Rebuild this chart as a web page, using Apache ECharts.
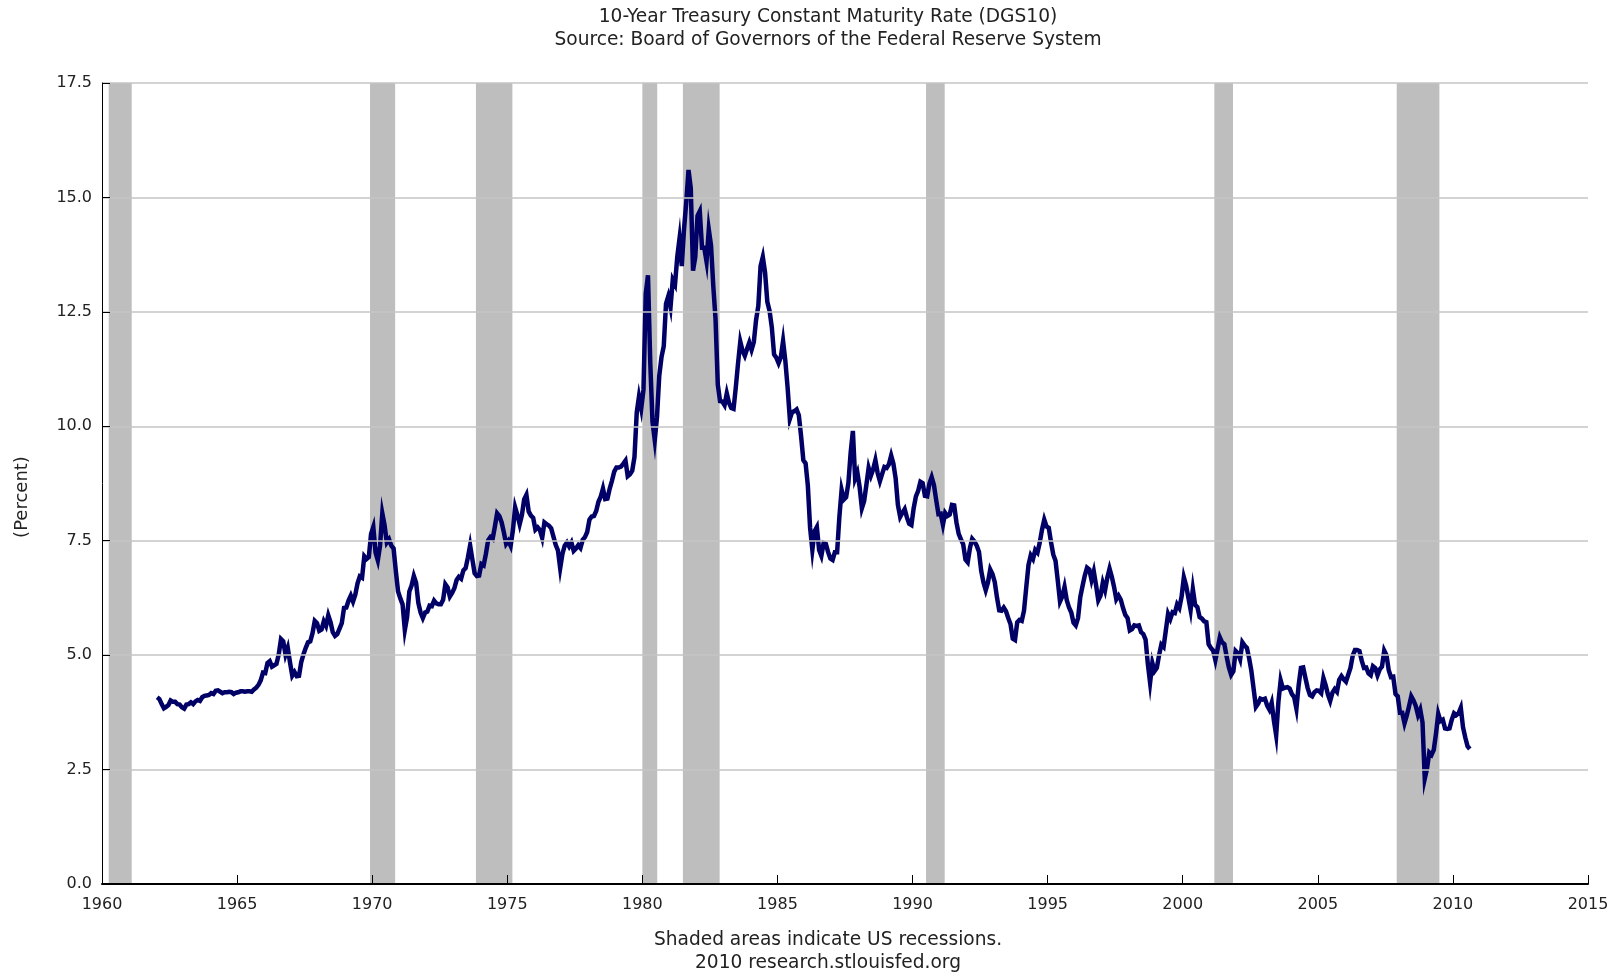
<!DOCTYPE html>
<html>
<head>
<meta charset="utf-8">
<script src="https://cdn.jsdelivr.net/npm/echarts@6/dist/echarts.min.js"></script>
<style>
html,body{margin:0;padding:0;background:#fff;}
#chart{width:1620px;height:972px;}
</style>
</head>
<body>
<div id="chart"></div>
<script>
// Monthly 10-year Treasury yields (percent), starting January 1962
const startYear = 1962;
const yields = [
  // 1962
  4.08, 4.04, 3.93, 3.84, 3.87, 3.91, 4.01, 3.98, 3.98, 3.93, 3.92, 3.86,
  // 1963
  3.83, 3.92, 3.93, 3.97, 3.93, 3.99, 4.02, 4.00, 4.08, 4.11, 4.12, 4.13,
  // 1964
  4.17, 4.15, 4.22, 4.23, 4.20, 4.17, 4.19, 4.19, 4.20, 4.19, 4.15, 4.18,
  // 1965
  4.19, 4.21, 4.21, 4.20, 4.21, 4.21, 4.20, 4.25, 4.29, 4.35, 4.45, 4.62,
  // 1966
  4.61, 4.83, 4.87, 4.75, 4.78, 4.81, 5.02, 5.35, 5.30, 5.01, 5.16, 4.84,
  // 1967
  4.55, 4.63, 4.54, 4.55, 4.85, 5.02, 5.16, 5.28, 5.30, 5.48, 5.75, 5.70,
  // 1968
  5.53, 5.56, 5.74, 5.64, 5.87, 5.72, 5.50, 5.42, 5.46, 5.58, 5.70, 6.03,
  // 1969
  6.04, 6.19, 6.30, 6.17, 6.32, 6.57, 6.72, 6.69, 7.16, 7.10, 7.14, 7.65,
  // 1970
  7.80, 7.24, 7.07, 7.39, 8.10, 7.84, 7.46, 7.53, 7.39, 7.33, 6.84, 6.39,
  // 1971
  6.24, 6.11, 5.55, 5.83, 6.39, 6.52, 6.73, 6.58, 6.14, 5.93, 5.81, 5.93,
  // 1972
  5.95, 6.08, 6.07, 6.19, 6.13, 6.11, 6.11, 6.21, 6.55, 6.48, 6.28, 6.36,
  // 1973
  6.46, 6.64, 6.71, 6.67, 6.85, 6.90, 7.13, 7.40, 7.09, 6.79, 6.73, 6.74,
  // 1974
  6.99, 6.96, 7.21, 7.51, 7.58, 7.54, 7.81, 8.10, 8.04, 7.90, 7.68, 7.43,
  // 1975
  7.50, 7.39, 7.73, 8.23, 8.06, 7.86, 8.06, 8.40, 8.50, 8.14, 8.05, 8.00,
  // 1976
  7.74, 7.79, 7.73, 7.56, 7.90, 7.86, 7.83, 7.77, 7.59, 7.41, 7.29, 6.90,
  // 1977
  7.21, 7.39, 7.46, 7.37, 7.46, 7.28, 7.33, 7.40, 7.34, 7.52, 7.58, 7.69,
  // 1978
  7.96, 8.03, 8.04, 8.15, 8.35, 8.46, 8.64, 8.41, 8.42, 8.64, 8.81, 9.01,
  // 1979
  9.10, 9.10, 9.12, 9.18, 9.25, 8.91, 8.95, 9.03, 9.33, 10.30, 10.65, 10.39,
  // 1980
  10.80, 12.90, 13.30, 11.40, 10.10, 9.70, 10.20, 11.10, 11.51, 11.75, 12.68, 12.84,
  // 1981
  12.60, 13.20, 13.10, 13.70, 14.10, 13.50, 14.30, 14.90, 15.60, 15.20, 13.40, 13.70,
  // 1982
  14.60, 14.70, 13.90, 13.90, 13.60, 14.30, 13.95, 13.06, 12.34, 10.91, 10.55, 10.54,
  // 1983
  10.46, 10.72, 10.51, 10.40, 10.38, 10.85, 11.38, 11.85, 11.65, 11.54, 11.69, 11.83,
  // 1984
  11.67, 11.84, 12.32, 12.63, 13.50, 13.70, 13.36, 12.72, 12.52, 12.16, 11.57, 11.50,
  // 1985
  11.38, 11.51, 11.86, 11.43, 10.85, 10.16, 10.31, 10.33, 10.37, 10.24, 9.78, 9.26,
  // 1986
  9.19, 8.70, 7.78, 7.30, 7.71, 7.80, 7.30, 7.17, 7.45, 7.43, 7.25, 7.11,
  // 1987
  7.08, 7.25, 7.25, 8.02, 8.61, 8.40, 8.45, 8.76, 9.42, 9.90, 8.86, 8.99,
  // 1988
  8.67, 8.21, 8.37, 8.72, 9.09, 8.92, 9.06, 9.26, 8.98, 8.80, 8.96, 9.11,
  // 1989
  9.09, 9.17, 9.36, 9.18, 8.86, 8.28, 8.02, 8.11, 8.19, 8.01, 7.87, 7.84,
  // 1990
  8.21, 8.47, 8.59, 8.79, 8.76, 8.48, 8.47, 8.75, 8.89, 8.72, 8.39, 8.08,
  // 1991
  8.09, 7.85, 8.11, 8.04, 8.07, 8.28, 8.27, 7.90, 7.65, 7.53, 7.42, 7.09,
  // 1992
  7.03, 7.34, 7.54, 7.48, 7.39, 7.26, 6.84, 6.59, 6.42, 6.59, 6.87, 6.77,
  // 1993
  6.60, 6.26, 5.98, 5.97, 6.04, 5.96, 5.81, 5.68, 5.36, 5.33, 5.72, 5.77,
  // 1994
  5.75, 5.97, 6.48, 6.97, 7.18, 7.10, 7.30, 7.24, 7.46, 7.74, 7.96, 7.81,
  // 1995
  7.78, 7.47, 7.20, 7.06, 6.63, 6.17, 6.28, 6.49, 6.20, 6.04, 5.93, 5.71,
  // 1996
  5.65, 5.81, 6.27, 6.51, 6.74, 6.91, 6.87, 6.64, 6.83, 6.53, 6.20, 6.30,
  // 1997
  6.58, 6.42, 6.69, 6.89, 6.71, 6.49, 6.22, 6.30, 6.21, 6.03, 5.88, 5.81,
  // 1998
  5.54, 5.57, 5.65, 5.64, 5.65, 5.50, 5.46, 5.34, 4.81, 4.40, 4.83, 4.65,
  // 1999
  4.72, 5.00, 5.23, 5.18, 5.54, 5.90, 5.79, 5.94, 5.92, 6.11, 6.03, 6.28,
  // 2000
  6.70, 6.52, 6.26, 5.99, 6.44, 6.10, 6.05, 5.83, 5.80, 5.74, 5.72, 5.24,
  // 2001
  5.16, 5.10, 4.89, 5.14, 5.39, 5.28, 5.24, 4.97, 4.73, 4.57, 4.65, 5.09,
  // 2002
  5.04, 4.91, 5.28, 5.21, 5.16, 4.93, 4.65, 4.26, 3.87, 3.94, 4.05, 4.03,
  // 2003
  4.05, 3.90, 3.81, 3.96, 3.57, 3.25, 3.98, 4.45, 4.27, 4.29, 4.30, 4.27,
  // 2004
  4.15, 4.08, 3.83, 4.35, 4.72, 4.73, 4.50, 4.28, 4.13, 4.10, 4.19, 4.23,
  // 2005
  4.22, 4.17, 4.50, 4.34, 4.14, 4.00, 4.18, 4.26, 4.20, 4.46, 4.54, 4.47,
  // 2006
  4.42, 4.57, 4.72, 4.99, 5.11, 5.11, 5.09, 4.88, 4.72, 4.73, 4.60, 4.56,
  // 2007
  4.76, 4.72, 4.56, 4.69, 4.75, 5.10, 5.00, 4.67, 4.52, 4.53, 4.15, 4.10,
  // 2008
  3.74, 3.74, 3.51, 3.68, 3.88, 4.10, 4.01, 3.89, 3.69, 3.81, 3.53, 2.30,
  // 2009
  2.52, 2.87, 2.82, 2.93, 3.29, 3.72, 3.56, 3.59, 3.40, 3.39, 3.40, 3.59,
  // 2010
  3.73, 3.69, 3.73, 3.85, 3.42, 3.20, 3.01, 2.95
];

// NBER recession periods (decimal years)
const recessions = [
  [1960.25, 1961.10],
  [1969.92, 1970.85],
  [1973.84, 1975.19],
  [1980.00, 1980.55],
  [1981.50, 1982.86],
  [1990.50, 1991.19],
  [2001.17, 2001.86],
  [2007.92, 2009.50]
];

const titleLines = [
  '10-Year Treasury Constant Maturity Rate (DGS10)',
  'Source: Board of Governors of the Federal Reserve System'
];
const footerLines = [
  'Shaded areas indicate US recessions.',
  '2010 research.stlouisfed.org'
];
const yAxisName = '(Percent)';

const lineData = yields.map((v, i) => [startYear + (i + 0.5) / 12, v]);

const FONT = 'DejaVu Sans';
const TXT = '#222';
const chart = echarts.init(document.getElementById('chart'), null, {renderer: 'canvas'});

function centerText(txt, x, y, size, rot) {
  return {
    type: 'text', x: x, y: y, rotation: rot || 0,
    style: {text: txt, fontFamily: FONT, fontSize: size, fill: TXT, align: 'center', verticalAlign: 'middle'}
  };
}

chart.setOption({
  animation: false,
  backgroundColor: '#ffffff',
  grid: {left: 102, right: 32, top: 83, bottom: 88},
  xAxis: {
    type: 'value',
    min: 1960, max: 2015, interval: 5,
    z: 5,
    axisLine: {show: true, onZero: false, lineStyle: {color: '#000', width: 2}},
    axisTick: {show: true, inside: true, length: 9, lineStyle: {color: '#000', width: 1}},
    axisLabel: {margin: 13, fontFamily: FONT, fontSize: 16, color: TXT, formatter: v => String(v)},
    splitLine: {show: false}
  },
  yAxis: {
    type: 'value',
    min: 0, max: 17.5, interval: 2.5,
    z: 5,
    axisLine: {show: true, lineStyle: {color: '#000', width: 1}},
    axisTick: {show: true, inside: true, length: 8, lineStyle: {color: '#000', width: 1}},
    axisLabel: {margin: 10, fontFamily: FONT, fontSize: 16, color: TXT, formatter: v => v.toFixed(1)},
    splitLine: {show: true, lineStyle: {color: '#c4c4c4', width: 1.5}}
  },
  graphic: [
    centerText(titleLines[0], 828, 17, 18.6),
    centerText(titleLines[1], 828, 40, 18.6),
    centerText(footerLines[0], 828, 940, 18.6),
    centerText(footerLines[1], 828, 963, 18.6),
    centerText(yAxisName, 22, 497, 18, Math.PI / 2)
  ],
  series: [
    {
      type: 'line',
      data: [],
      z: 1,
      silent: true,
      markArea: {
        silent: true,
        itemStyle: {color: '#bebebe'},
        data: recessions.map(r => [{xAxis: r[0], yAxis: 0}, {xAxis: r[1], yAxis: 17.5}])
      }
    },
    {
      type: 'line',
      data: lineData,
      z: 3,
      showSymbol: false,
      symbol: 'none',
      lineStyle: {color: '#000066', width: 4.5, join: 'miter'}
    }
  ]
});
</script>
</body>
</html>
